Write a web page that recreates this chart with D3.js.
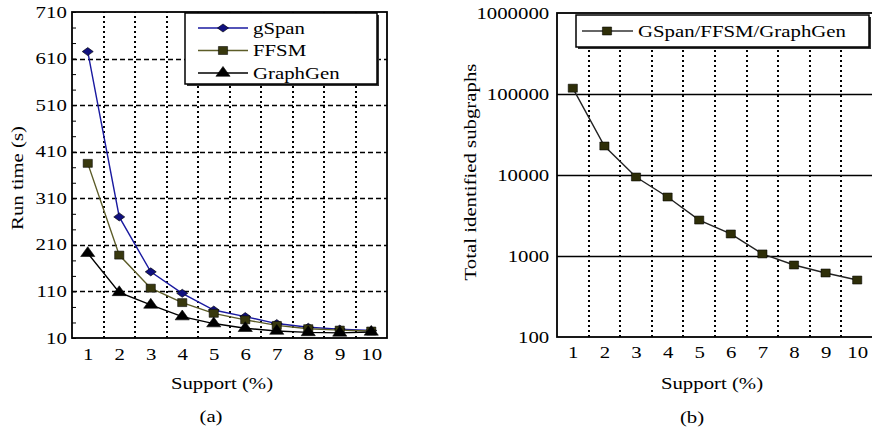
<!DOCTYPE html>
<html>
<head>
<meta charset="utf-8">
<script src="https://cdn.jsdelivr.net/npm/d3@7"></script>
<style>
  body { margin: 0; background: #fff; }
  text { font-family: "Liberation Serif", "Times New Roman", serif; font-size: 16px; fill: #000; }
</style>
</head>
<body>
<script>
// values
var support = [1, 2, 3, 4, 5, 6, 7, 8, 9, 10];
var gspan = [625, 270, 152, 106, 70, 56, 41, 33, 29, 26];
var ffsm = [385, 188, 117, 86, 63, 49, 37, 30, 27, 25];
var graphgen = [192, 108, 81, 56, 41, 31, 25, 22, 21, 23];
var subgraphs = [118000, 22800, 9450, 5350, 2780, 1870, 1060, 774, 617, 505];

var runTicks = [10, 110, 210, 310, 410, 510, 610, 710];
var countTicks = [100, 1000, 10000, 100000, 1000000];
var gridX = [1.5, 2.5, 3.5, 4.5, 5.5, 6.5, 7.5, 8.5, 9.5];

var width = 872, height = 434;
var stretch = 1.3; // the original text is drawn wide

var svg = d3.select('body').append('svg')
  .attr('width', width).attr('height', height);

function label(g, x, y, str, anchor, rotate) {
  return g.append('text')
    .attr('transform', 'translate(' + x + ',' + y + ')' + (rotate ? ' rotate(-90)' : '') + ' scale(' + stretch + ',1)')
    .attr('text-anchor', anchor || 'middle')
    .attr('dy', '0.35em')
    .text(str);
}

function stretchTicks(axisG) {
  axisG.selectAll('.tick text').attr('transform', 'scale(' + stretch + ',1)');
  axisG.select('.domain').remove();
}

// ---------- (a) run time ----------
var xL = d3.scaleLinear().domain([0.5, 10.5]).range([72, 387]);
var yL = d3.scaleLinear().domain([10, 710]).range([338, 12]);
var a = svg.append('g');

a.selectAll('line.hgrid')
  .data(runTicks.slice(1, -1))
  .enter().append('line')
  .attr('x1', xL.range()[0]).attr('x2', xL.range()[1])
  .attr('y1', function (d) { return Math.round(yL(d)) + 0.5; }).attr('y2', function (d) { return Math.round(yL(d)) + 0.5; })
  .attr('stroke', '#000').attr('stroke-width', 1.3).attr('stroke-dasharray', '5,3');

a.selectAll('line.vgrid')
  .data(gridX)
  .enter().append('line')
  .attr('x1', function (d) { return Math.round(xL(d)); }).attr('x2', function (d) { return Math.round(xL(d)); })
  .attr('y1', yL.range()[0]).attr('y2', yL.range()[1])
  .attr('stroke', '#000').attr('stroke-width', 2).attr('stroke-dasharray', '2,3');

// minor ticks on the left axis
a.append('g')
  .attr('transform', 'translate(' + xL.range()[0] + ',0)')
  .call(d3.axisLeft(yL).tickValues(d3.range(10, 711, 100 / 3)).tickSize(-4).tickFormat(''))
  .call(function (g) { g.select('.domain').remove(); g.selectAll('line').attr('stroke', '#000'); });

var axL = a.append('g')
  .attr('transform', 'translate(' + xL.range()[0] + ',0)')
  .call(d3.axisLeft(yL).tickValues(runTicks).tickSize(0).tickPadding(4));
stretchTicks(axL);
var axB = a.append('g')
  .attr('transform', 'translate(0,' + (yL.range()[0] + 8) + ')')
  .call(d3.axisBottom(xL).tickValues(support).tickSize(0).tickPadding(3));
stretchTicks(axB);

a.append('rect')
  .attr('x', xL.range()[0]).attr('y', yL.range()[1])
  .attr('width', xL.range()[1] - xL.range()[0]).attr('height', yL.range()[0] - yL.range()[1])
  .attr('fill', 'none').attr('stroke', '#000').attr('stroke-width', 1.8);

var seriesA = [
  { name: 'gSpan', values: gspan, line: '#1a1aa0', fill: '#10107e', shape: 'diamond' },
  { name: 'FFSM', values: ffsm, line: '#5c5c28', fill: '#38380e', shape: 'square' },
  { name: 'GraphGen', values: graphgen, line: '#000', fill: '#000', shape: 'triangle' }
];

function marker(g, shape, fill, x, y) {
  var p;
  if (shape === 'diamond') {
    p = g.append('path').attr('d', d3.symbol(d3.symbolSquare, 36)())
      .attr('transform', 'translate(' + x + ',' + y + ') scale(1.3,0.95) rotate(45)');
  } else if (shape === 'square') {
    p = g.append('path').attr('d', d3.symbol(d3.symbolSquare, 64)())
      .attr('transform', 'translate(' + x + ',' + y + ') scale(1.15,1)');
  } else {
    p = g.append('path').attr('d', d3.symbol(d3.symbolTriangle, 56)())
      .attr('transform', 'translate(' + x + ',' + y + ') scale(1.25,1)');
  }
  p.attr('fill', fill).attr('stroke', '#000').attr('stroke-width', 0.5);
}

seriesA.forEach(function (s) {
  var line = d3.line()
    .x(function (d, i) { return xL(support[i]); })
    .y(function (d) { return yL(d); });
  a.append('path').datum(s.values)
    .attr('d', line).attr('fill', 'none')
    .attr('stroke', s.line).attr('stroke-width', 1.4);
  s.values.forEach(function (v, i) {
    marker(a, s.shape, s.fill, xL(support[i]), yL(v));
  });
});

// legend (a)
a.append('rect').attr('x', 187).attr('y', 15).attr('width', 192).attr('height', 71).attr('fill', '#333');
a.append('rect').attr('x', 185).attr('y', 13).attr('width', 192).attr('height', 71)
  .attr('fill', '#fff').attr('stroke', '#000').attr('stroke-width', 1.5);
seriesA.forEach(function (s, i) {
  var y = 28 + i * 22.5;
  a.append('line').attr('x1', 198).attr('x2', 248).attr('y1', y).attr('y2', y)
    .attr('stroke', s.line).attr('stroke-width', 1.4);
  marker(a, s.shape, s.fill, 223, y);
  label(a, 253, y, s.name, 'start');
});

label(a, 17, 178, 'Run time (s)', 'middle', true);
label(a, 222, 383, 'Support (%)');
label(a, 211, 416, '(a)');

// ---------- (b) subgraph count ----------
var xR = d3.scaleLinear().domain([0.5, 10.5]).range([557, 873]);
var yR = d3.scaleLog().domain([100, 1000000]).range([337, 13]);
var b = svg.append('g');

b.selectAll('line.hgrid')
  .data(countTicks.slice(1, -1))
  .enter().append('line')
  .attr('x1', xR.range()[0]).attr('x2', xR.range()[1])
  .attr('y1', function (d) { return Math.round(yR(d)) + 0.5; }).attr('y2', function (d) { return Math.round(yR(d)) + 0.5; })
  .attr('stroke', '#000').attr('stroke-width', 1.3);

b.selectAll('line.vgrid')
  .data(gridX)
  .enter().append('line')
  .attr('x1', function (d) { return Math.round(xR(d)); }).attr('x2', function (d) { return Math.round(xR(d)); })
  .attr('y1', yR.range()[0]).attr('y2', yR.range()[1])
  .attr('stroke', '#000').attr('stroke-width', 2).attr('stroke-dasharray', '2,3');

var axR = b.append('g')
  .attr('transform', 'translate(' + xR.range()[0] + ',0)')
  .call(d3.axisLeft(yR).tickValues(countTicks).tickFormat(d3.format('d')).tickSize(0).tickPadding(6));
stretchTicks(axR);
var axRB = b.append('g')
  .attr('transform', 'translate(0,' + (yR.range()[0] + 8) + ')')
  .call(d3.axisBottom(xR).tickValues(support).tickSize(0).tickPadding(2));
stretchTicks(axRB);

b.append('rect')
  .attr('x', xR.range()[0]).attr('y', yR.range()[1])
  .attr('width', xR.range()[1] - xR.range()[0]).attr('height', yR.range()[0] - yR.range()[1])
  .attr('fill', 'none').attr('stroke', '#000').attr('stroke-width', 1.8);

var lineR = d3.line()
  .x(function (d, i) { return xR(support[i]); })
  .y(function (d) { return yR(d); });
b.append('path').datum(subgraphs)
  .attr('d', lineR).attr('fill', 'none')
  .attr('stroke', '#222').attr('stroke-width', 1.4);
subgraphs.forEach(function (v, i) {
  marker(b, 'square', '#2e2e08', xR(support[i]), yR(v));
});

// legend (b)
b.append('rect').attr('x', 578).attr('y', 17).attr('width', 293).attr('height', 32).attr('fill', '#333');
b.append('rect').attr('x', 576).attr('y', 15).attr('width', 293).attr('height', 32)
  .attr('fill', '#fff').attr('stroke', '#000').attr('stroke-width', 1.5);
b.append('line').attr('x1', 582).attr('x2', 633).attr('y1', 31).attr('y2', 31)
  .attr('stroke', '#333').attr('stroke-width', 1.4);
marker(b, 'square', '#2e2e08', 607, 31);
label(b, 638, 31, 'GSpan/FFSM/GraphGen', 'start');

label(b, 470, 172, 'Total identified subgraphs', 'middle', true);
label(b, 712, 383, 'Support (%)');
label(b, 692, 417, '(b)');
</script>
</body>
</html>
